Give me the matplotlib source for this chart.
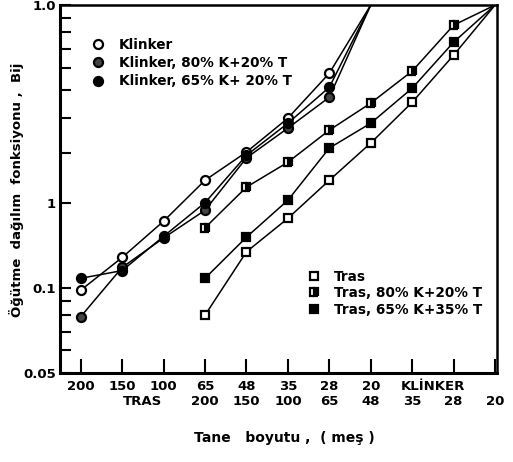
import matplotlib
matplotlib.use("Agg")
import matplotlib.pyplot as plt
from matplotlib.transforms import blended_transform_factory

# sieve positions along the x axis (equal spacing, 11 slots)
klinker_x = [0, 1, 2, 3, 4, 5, 6, 7]
tras_x = [3, 4, 5, 6, 7, 8, 9, 10]

# breakage distribution function B_ij
klinker = [0.098, 0.128, 0.172, 0.240, 0.302, 0.398, 0.574, 1.0]
klinker_80 = [0.079, 0.118, 0.150, 0.188, 0.288, 0.367, 0.472, 1.0]
klinker_65 = [0.108, 0.115, 0.152, 0.200, 0.294, 0.382, 0.512, 1.0]

tras = [0.080, 0.134, 0.176, 0.240, 0.325, 0.453, 0.665, 1.0]
tras_80 = [0.163, 0.227, 0.278, 0.361, 0.450, 0.584, 0.849, 1.0]
tras_65 = [0.108, 0.151, 0.204, 0.312, 0.382, 0.508, 0.739, 1.0]

# two rows of mesh labels under the axis
row1_labels = ["200", "150", "100", "65", "48", "35", "28", "20"]
row1_x = [0, 1, 2, 3, 4, 5, 6, 7]
row2_labels = ["200", "150", "100", "65", "48", "35", "28", "20"]
row2_x = [3, 4, 5, 6, 7, 8, 9, 10]

y_ticks = [0.05, 0.1, 0.2, 1.0]
y_tick_labels = ["0.05", "0.1", "1", "1.0"]
y_minor = [0.06, 0.07, 0.08, 0.09, 0.3, 0.4, 0.5, 0.6, 0.7, 0.8, 0.9]

plt.rcParams.update({
    "font.family": ["DejaVu Sans"],
    "font.weight": "bold",
    "font.size": 9,
})

fig = plt.figure(figsize=(5.13, 4.62), dpi=100)
ax = fig.add_axes([0.117, 0.193, 0.852, 0.796])

ms = 6.5
lw = 1.1
n = len(klinker_x) - 1
m = len(tras_x) - 1

l1, = ax.plot(klinker_x, klinker, color="black", lw=lw, marker="o", ms=ms,
              mfc="white", mec="black", mew=1.6, markevery=list(range(n)),
              label="Klinker")
l2, = ax.plot(klinker_x, klinker_80, color="black", lw=lw, marker="o", ms=ms,
              mfc="#444444", mec="black", mew=1.6, markevery=list(range(n)),
              label="Klinker, 80% K+20% T")
l3, = ax.plot(klinker_x, klinker_65, color="black", lw=lw, marker="o", ms=ms,
              mfc="black", mec="black", mew=1.6, markevery=list(range(n)),
              label="Klinker, 65% K+ 20% T")

s1, = ax.plot(tras_x, tras, color="black", lw=lw, marker="s", ms=ms - 0.5,
              mfc="white", mec="black", mew=1.6, markevery=list(range(m)),
              label="Tras")
s2, = ax.plot(tras_x, tras_80, color="black", lw=lw, marker="s", ms=ms - 0.5,
              mfc="black", mfcalt="white", fillstyle="right", mec="black",
              mew=1.6, markevery=list(range(m)), label="Tras, 80% K+20% T")
s3, = ax.plot(tras_x, tras_65, color="black", lw=lw, marker="s", ms=ms - 0.5,
              mfc="black", mec="black", mew=1.6, markevery=list(range(m)),
              label="Tras, 65% K+35% T")

ax.set_yscale("log")
ax.set_ylim(0.05, 1.0)
ax.set_xlim(-0.5, 10.05)

ax.set_yticks(y_ticks)
ax.set_yticklabels(y_tick_labels, fontsize=9.5, fontweight="bold")
ax.set_yticks(y_minor, minor=True)
ax.yaxis.set_minor_formatter(plt.NullFormatter())
ax.tick_params(axis="y", which="both", direction="in", length=8, width=1.5,
               pad=3)

ax.set_xticks(list(range(11)))
ax.set_xticklabels([])
ax.tick_params(axis="x", direction="in", length=10, width=1.5)

for side, w in [("left", 2.2), ("bottom", 2.2), ("top", 1.8), ("right", 1.8)]:
    ax.spines[side].set_linewidth(w)

trans = blended_transform_factory(ax.transData, ax.transAxes)
for x, t in zip(row1_x, row1_labels):
    ax.text(x, -0.036, t, transform=trans, ha="center", va="center",
            fontsize=9.5, fontweight="bold")
for x, t in zip(row2_x, row2_labels):
    ax.text(x, -0.078, t, transform=trans, ha="center", va="center",
            fontsize=9.5, fontweight="bold")
ax.text(1.5, -0.078, "TRAS", transform=trans, ha="center", va="center",
        fontsize=9.5, fontweight="bold")
ax.text(8.5, -0.036, "KLİNKER", transform=trans, ha="center", va="center",
        fontsize=9.5, fontweight="bold")

fig.text(0.555, 0.052, "Tane   boyutu ,  ( meş )", ha="center", va="center",
         fontsize=10, fontweight="bold")
fig.text(0.033, 0.59, "Öğütme  dağılım  fonksiyonu ,  Bij", rotation=90,
         ha="center", va="center", fontsize=9.5, fontweight="bold")

leg1 = ax.legend(handles=[l1, l2, l3], loc="upper left",
                 bbox_to_anchor=(0.075, 0.925), frameon=False, fontsize=9.8,
                 handlelength=0, handletextpad=1.5, labelspacing=0.3,
                 borderaxespad=0)
ax.add_artist(leg1)
ax.legend(handles=[s1, s2, s3], loc="upper left",
          bbox_to_anchor=(0.568, 0.295), frameon=False, fontsize=9.8,
          handlelength=0, handletextpad=1.5, labelspacing=0.18,
          borderaxespad=0)

fig.savefig("out.png", dpi=100)
